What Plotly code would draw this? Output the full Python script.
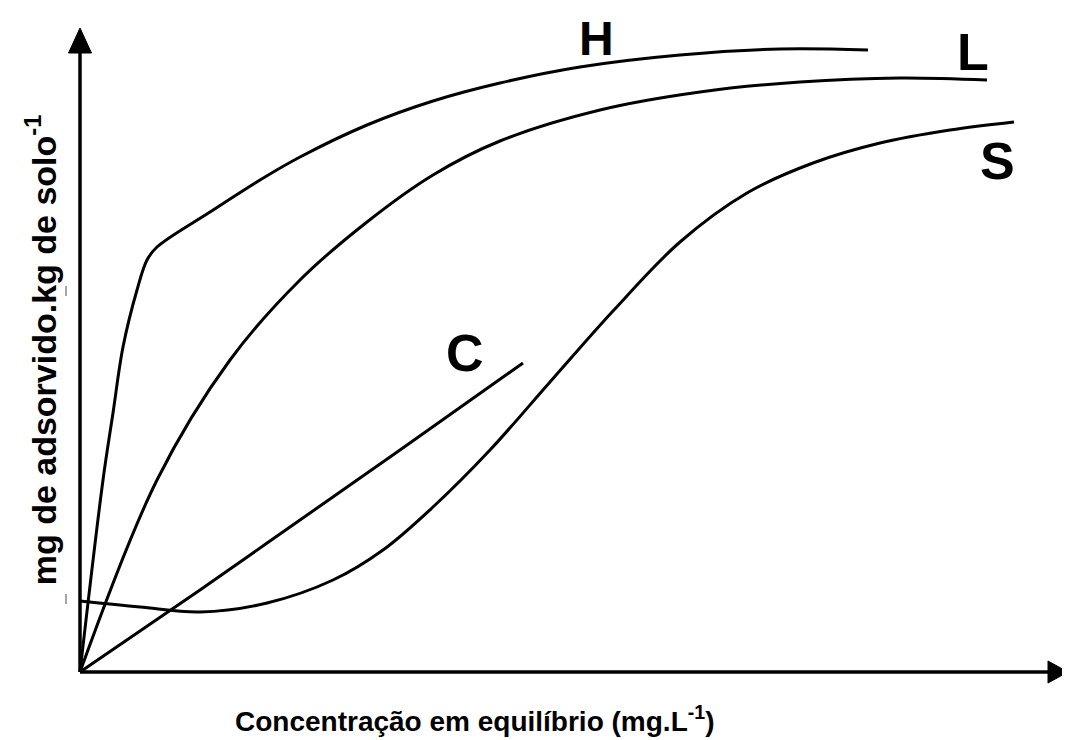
import plotly.graph_objects as go

# Curve data (arbitrary units)
h_x = [0, 2.3, 3.3, 4.3, 5.7, 6.7, 7.7, 13.0, 18.0, 22.0, 28.7, 35.3, 42.0, 50.0, 60.0, 70.0, 78.8]
h_y = [0, 19.2, 25.9, 32.5, 38.2, 41.2, 42.5, 46.0, 49.2, 51.5, 54.7, 57.1, 58.9, 60.5, 61.7, 62.3, 62.2]

l_x = [0, 7.7, 15.0, 22.0, 28.7, 35.3, 42.0, 52.0, 62.0, 72.0, 82.0, 90.7]
l_y = [0, 19.2, 31.2, 39.2, 45.0, 49.7, 53.1, 56.2, 58.0, 59.0, 59.4, 59.2]

c_x = [0, 12, 22, 32, 44.3]
c_y = [0, 8.2, 15.2, 22.2, 30.9]

s_x = [0, 6, 12, 18.7, 25.3, 30.3, 35.3, 41, 47, 53.3, 60, 66.7, 73.3, 80, 87, 93.4]
s_y = [7.1, 6.5, 6.0, 6.9, 9.2, 12.2, 16.5, 22.2, 29.0, 36.1, 43.0, 47.9, 50.9, 52.9, 54.2, 55.0]

curve_names = ["H", "L", "C", "S"]
label_x = [51.6, 89.3, 38.5, 91.7]
label_y = [63.4, 62.0, 31.9, 51.1]
label_size = [48, 52, 52, 52]

x_title = "Concentração em equilíbrio (mg.L<sup>-1</sup>)"
y_title = "mg de adsorvido.kg de solo<sup>-1</sup>"

X_MAX = 98.8   # x-axis arrow tip
Y_MAX = 64.4   # y-axis arrow tip

fig = go.Figure()
line_style = dict(color="black", width=3, shape="spline", smoothing=1.0)
for xs, ys, nm in [(h_x, h_y, "H"), (l_x, l_y, "L"), (c_x, c_y, "C"), (s_x, s_y, "S")]:
    fig.add_trace(go.Scatter(x=xs, y=ys, mode="lines", line=line_style, name=nm,
                             showlegend=False, hoverinfo="skip", cliponaxis=False))

shapes = [
    dict(type="line", xref="x", yref="y", x0=0, y0=0, x1=X_MAX - 1.5, y1=0,
         line=dict(color="black", width=3.5)),
    dict(type="line", xref="x", yref="y", x0=0, y0=0, x1=0, y1=Y_MAX - 2.0,
         line=dict(color="black", width=3.5)),
    dict(type="path", xref="x", yref="y",
         path=f"M {X_MAX} 0 L {X_MAX-2.0} 1.1 L {X_MAX-2.0} -1.1 Z",
         fillcolor="black", line=dict(color="black", width=1)),
    dict(type="path", xref="x", yref="y",
         path=f"M 0 {Y_MAX} L -1.15 {Y_MAX-2.5} L 1.15 {Y_MAX-2.5} Z",
         fillcolor="black", line=dict(color="black", width=1)),
    dict(type="line", xref="x", yref="y", x0=-1.4, y0=38.6, x1=-1.4, y1=37.6,
         line=dict(color="#888", width=1.5)),
    dict(type="line", xref="x", yref="y", x0=-1.4, y0=7.8, x1=-1.4, y1=6.8,
         line=dict(color="#888", width=1.5)),
]

annotations = []
for nm, lx, ly, fs in zip(curve_names, label_x, label_y, label_size):
    annotations.append(dict(x=lx, y=ly, xref="x", yref="y", text=f"<b>{nm}</b>", showarrow=False,
                            font=dict(family="Liberation Sans, Arial", size=fs, color="black"),
                            xanchor="center", yanchor="middle", borderpad=0))
annotations.append(dict(x=39.5, y=-0.0275, xref="x", yref="paper", text=f"<b>{x_title}</b>",
                        showarrow=False,
                        font=dict(family="Liberation Sans, Arial", size=28, color="black"),
                        xanchor="center", yanchor="middle"))
annotations.append(dict(x=-0.0095, y=32.2, xref="paper", yref="y", text=f"<b>{y_title}</b>",
                        showarrow=False, textangle=-90,
                        font=dict(family="Liberation Sans, Arial", size=34, color="black"),
                        xanchor="center", yanchor="middle"))

fig.update_layout(
    width=1062, height=732,
    margin=dict(l=42, r=0, t=0, b=40, pad=0),
    paper_bgcolor="white", plot_bgcolor="white",
    xaxis=dict(range=[-3, 99], visible=False, fixedrange=True),
    yaxis=dict(range=[-2.8, 66.4], visible=False, fixedrange=True),
    shapes=shapes, annotations=annotations,
    showlegend=False,
)

fig.write_html("out.html")
